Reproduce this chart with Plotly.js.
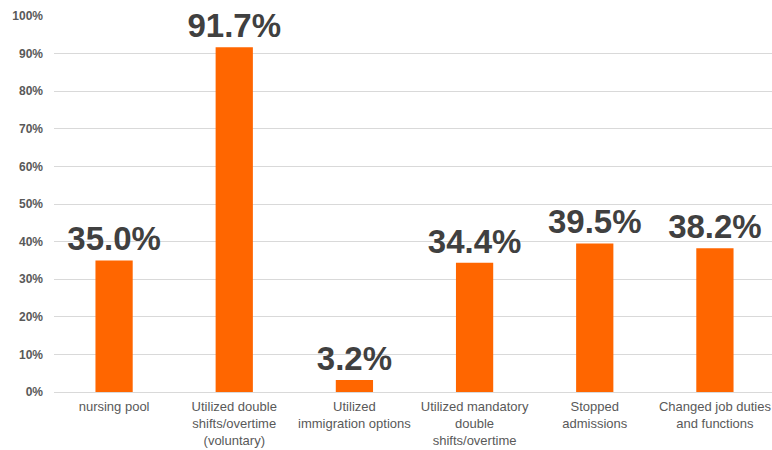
<!DOCTYPE html>
<html><head><meta charset="utf-8">
<script src="https://cdn.plot.ly/plotly-3.0.1.min.js"></script>
<style>html,body{margin:0;padding:0;overflow:hidden;background:#fff}</style>
</head><body><div id="chart" style="width:776px;height:450px"></div>
<script>
const categories = [
  "nursing pool",
  "Utilized double<br>shifts/overtime<br>(voluntary)",
  "Utilized<br>immigration options",
  "Utilized mandatory<br>double<br>shifts/overtime",
  "Stopped<br>admissions",
  "Changed job duties<br>and functions"
];
const values = [35.0, 91.7, 3.2, 34.4, 39.5, 38.2];
const valueLabels = ["35.0%", "91.7%", "3.2%", "34.4%", "39.5%", "38.2%"];
const yTicks = [0, 10, 20, 30, 40, 50, 60, 70, 80, 90, 100];
const yTickLabels = ["0%", "10%", "20%", "30%", "40%", "50%", "60%", "70%", "80%", "90%", "100%"];

Plotly.newPlot("chart", [{
  type: "bar",
  x: categories,
  y: values,
  marker: {color: "#ff6600"},
  text: valueLabels,
  textposition: "outside",
  constraintext: "none",
  textfont: {family: "Liberation Sans, Arial, sans-serif", size: 33, color: "#404040", weight: "bold"},
  cliponaxis: false,
  hoverinfo: "none"
}], {
  width: 776, height: 450,
  margin: {l: 54, r: 1, t: 16, b: 58},
  paper_bgcolor: "#fff", plot_bgcolor: "#fff",
  bargap: 0.69,
  showlegend: false,
  xaxis: {
    tickfont: {family: "Liberation Sans, Arial, sans-serif", size: 13, color: "#595959"},
    ticks: "", showgrid: false, showline: false, zeroline: false,
    ticklabelstandoff: 5
  },
  yaxis: {
    range: [0, 100], tickmode: "array", tickvals: yTicks, ticktext: yTickLabels,
    tickfont: {family: "Liberation Sans, Arial, sans-serif", size: 12, color: "#595959", weight: "bold"},
    showgrid: true, gridcolor: "#d9d9d9", gridwidth: 1,
    zeroline: true, zerolinecolor: "#d9d9d9", zerolinewidth: 1,
    showline: false, ticks: "", ticklabelstandoff: 10
  }
}, {displayModeBar: false, staticPlot: true});
</script></body></html>
